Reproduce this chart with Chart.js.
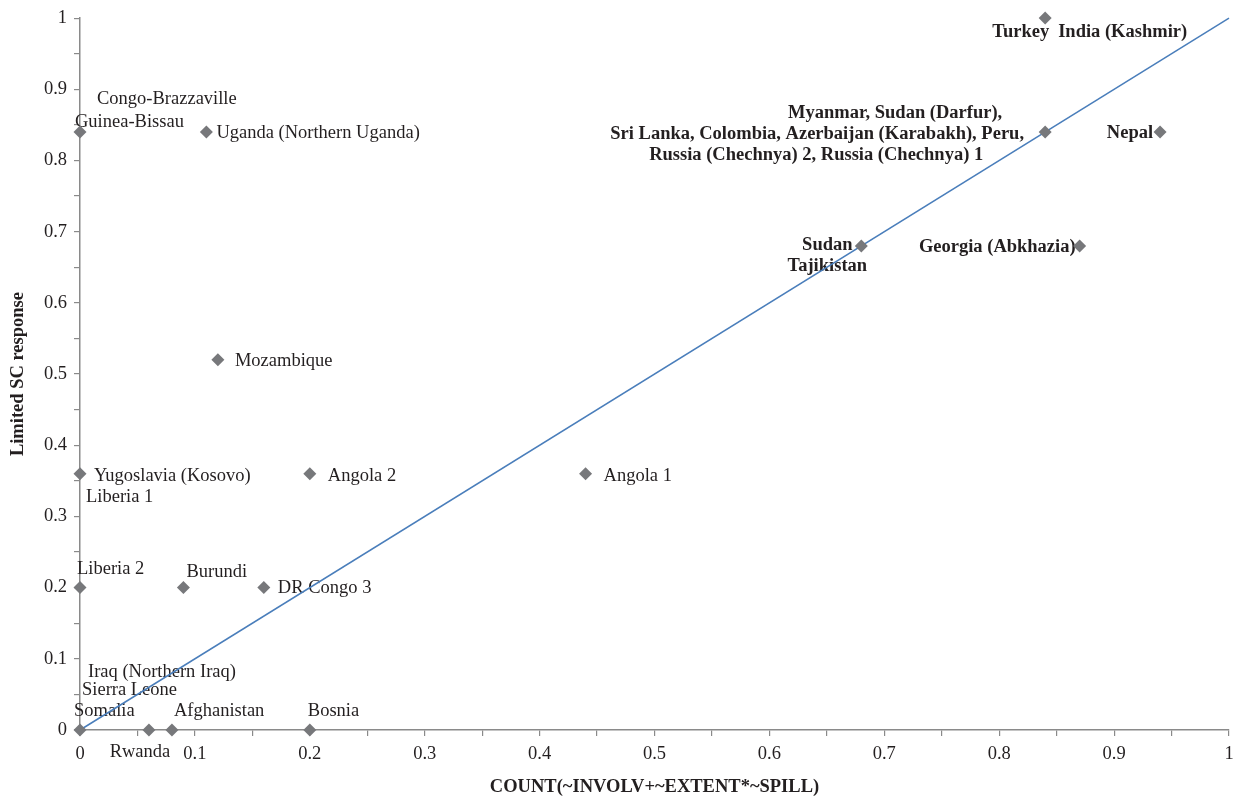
<!DOCTYPE html>
<html>
<head>
<meta charset="utf-8">
<script src="https://cdn.jsdelivr.net/npm/chart.js@4"></script>
<style>
  html, body { margin: 0; padding: 0; background: #fff; }
  #wrap { width: 1239px; height: 796px; }
</style>
</head>
<body>
<div id="wrap"><canvas id="chart" width="1239" height="796"></canvas></div>
<script>
// coordenadas de cada punto (casos que comparten posición van en el mismo punto)
const pointX = [0, 0.11, 0.84, 0.84, 0.94, 0.68, 0.87, 0.12, 0, 0.2, 0.44, 0, 0.09, 0.16, 0, 0.06, 0.08, 0.2];
const pointY = [0.84, 0.84, 1, 0.84, 0.84, 0.68, 0.68, 0.52, 0.36, 0.36, 0.36, 0.2, 0.2, 0.2, 0, 0, 0, 0];

// textos de cada punto
const pointLabels = [
    ["Congo-Brazzaville", "Guinea-Bissau"],
    ["Uganda (Northern Uganda)"],
    ["Turkey", "India (Kashmir)"],
    ["Myanmar, Sudan (Darfur),", "Sri Lanka, Colombia, Azerbaijan (Karabakh), Peru,", "Russia (Chechnya) 2, Russia (Chechnya) 1"],
    ["Nepal"],
    ["Sudan", "Tajikistan"],
    ["Georgia (Abkhazia)"],
    ["Mozambique"],
    ["Yugoslavia (Kosovo)", "Liberia 1"],
    ["Angola 2"],
    ["Angola 1"],
    ["Liberia 2"],
    ["Burundi"],
    ["DR Congo 3"],
    ["Iraq (Northern Iraq)", "Sierra Leone", "Somalia"],
    ["Rwanda"],
    ["Afghanistan"],
    ["Bosnia"]
];

// diagonal de referencia
const lineX = [0, 1];
const lineY = [0, 1];

const xTitle = "COUNT(~INVOLV+~EXTENT*~SPILL)";
const yTitle = "Limited SC response";

// posición de cada texto respecto a su punto: [dx, dy, align, bold]
const labelPlace = [
    [[17, -33, "left", false], [-5, -10, "left", false]],
    [[10, 1, "left", false]],
    [[4, 14, "right", true], [13, 14, "left", true]],
    [[-150, -19, "center", true], [-228, 2, "center", true], [-229, 23, "center", true]],
    [[-7, 1, "right", true]],
    [[-34, -1, "center", true], [-34, 20, "center", true]],
    [[-4, 1, "right", true]],
    [[17, 1, "left", false]],
    [[14, 2, "left", false], [6, 23, "left", false]],
    [[18, 2, "left", false]],
    [[18, 2, "left", false]],
    [[-3, -18, "left", false]],
    [[3, -15, "left", false]],
    [[14, 1, "left", false]],
    [[8, -58, "left", false], [2, -40, "left", false], [-6, -19, "left", false]],
    [[-9, 22, "center", false]],
    [[2, -19, "left", false]],
    [[-2, -19, "left", false]]
];

const FONT = "'Liberation Serif', 'Times New Roman', serif";
const FS = 18.5;
const TEXT = "#231f20";
const AXIS = "#8a8a8a";

// plugin etiquetas de puntos
const pointText = {
    id: "pointText",
    beforeDatasetsDraw(chart) {
        const { ctx, scales: { x, y } } = chart;
        ctx.save();
        ctx.fillStyle = TEXT;
        ctx.textBaseline = "middle";
        pointLabels.forEach((texts, i) => {
            const px = x.getPixelForValue(pointX[i]);
            const py = y.getPixelForValue(pointY[i]);
            texts.forEach((t, j) => {
                const [dx, dy, align, bold] = labelPlace[i][j];
                ctx.font = (bold ? "bold " : "") + FS + "px " + FONT;
                ctx.textAlign = align;
                ctx.fillText(t, px + dx, py + dy);
            });
        });
        ctx.restore();
    }
};

const tickFmt = (v, i) => (i % 2 ? "" : String(Math.round(v * 10) / 10));

new Chart(document.getElementById("chart"), {
    type: "scatter",
    data: {
        datasets: [
            {
                label: "casos",
                data: pointX.map((v, i) => ({ x: v, y: pointY[i] })),
                pointStyle: "rectRot",
                pointRadius: 6.5,
                pointHoverRadius: 6.5,
                backgroundColor: "#77787b",
                borderWidth: 0,
                clip: false
            },
            {
                type: "line",
                label: "diagonal",
                data: lineX.map((v, i) => ({ x: v, y: lineY[i] })),
                borderColor: "#4a7ebb",
                borderWidth: 1.5,
                pointRadius: 0,
                fill: false,
                clip: false
            }
        ]
    },
    options: {
        responsive: false,
        animation: false,
        devicePixelRatio: 1,
        layout: { padding: { top: 18, right: 10, left: 0, bottom: 0 } },
        plugins: {
            legend: { display: false },
            tooltip: { enabled: false }
        },
        scales: {
            x: {
                type: "linear",
                min: 0,
                max: 1,
                afterFit(s) { s.height = 66; s.paddingRight = 0; s.paddingLeft = 0; },
                ticks: {
                    stepSize: 0.05,
                    autoSkip: false,
                    maxRotation: 0,
                    padding: 7,
                    color: TEXT,
                    font: { family: FONT, size: FS },
                    callback: tickFmt
                },
                grid: { drawOnChartArea: false, tickLength: 6, color: AXIS, tickColor: AXIS, lineWidth: 1.2 },
                border: { color: AXIS, width: 1.5 },
                title: {
                    display: true,
                    text: xTitle,
                    color: TEXT,
                    font: { family: FONT, size: FS, weight: "bold", lineHeight: 1 },
                    padding: { top: 0, bottom: 0 }
                }
            },
            y: {
                type: "linear",
                min: 0,
                max: 1,
                afterFit(s) { s.width = 80; },
                ticks: {
                    stepSize: 0.05,
                    autoSkip: false,
                    padding: 7,
                    color: TEXT,
                    font: { family: FONT, size: FS },
                    callback: tickFmt
                },
                grid: { drawOnChartArea: false, tickLength: 6, color: AXIS, tickColor: AXIS, lineWidth: 1.2 },
                border: { color: AXIS, width: 1.5 },
                title: {
                    display: true,
                    text: yTitle,
                    color: TEXT,
                    font: { family: FONT, size: FS, weight: "bold" },
                    padding: { top: 7, bottom: 0 }
                }
            }
        }
    },
    plugins: [pointText]
});
</script>
</body>
</html>
